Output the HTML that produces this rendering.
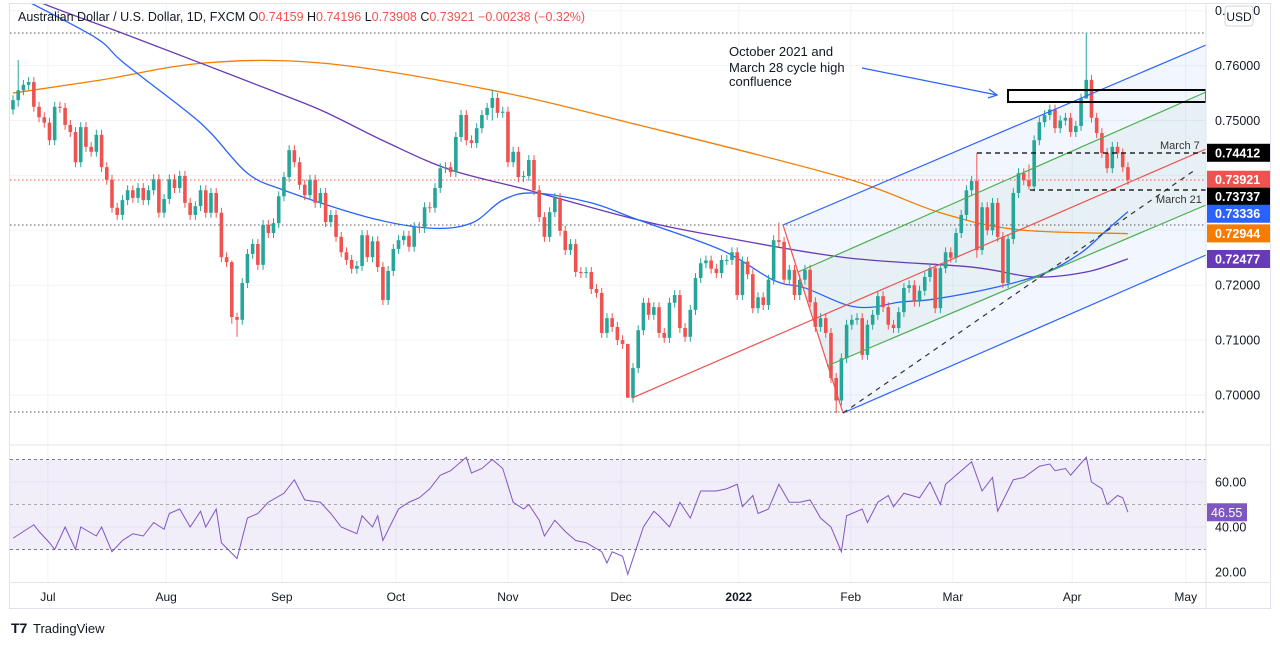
<!DOCTYPE html>
<html><head><meta charset="utf-8">
<style>
html,body{margin:0;padding:0;background:#fff;}
svg{display:block;font-family:"Liberation Sans",sans-serif;}
</style></head>
<body>
<svg id="chart" width="1280" height="645" viewBox="0 0 1280 645" xmlns="http://www.w3.org/2000/svg">
  <rect x="0" y="0" width="1280" height="645" fill="#fff"/>
  <rect x="9.5" y="3.5" width="1261" height="605" fill="none" stroke="#e0e3eb"/>
  <defs>
    <clipPath id="mainClip"><rect x="10" y="4" width="1196" height="440"/></clipPath>
    <clipPath id="rsiClip"><rect x="10" y="446" width="1196" height="136"/></clipPath>
  </defs>
  <g id="grid"></g>
  <g id="drawBack" clip-path="url(#mainClip)">
    <polygon points="783,225 1206,45 1206,255 843,413" fill="#2962ff" fill-opacity="0.06"/>
    <polygon points="798,272 1206,92 1206,205 827,366" fill="#4caf50" fill-opacity="0.06"/>
  </g>
  <g id="refLines">
    <line x1="10" y1="33" x2="1206" y2="33" stroke="#555" stroke-dasharray="1.5,2.5"/>
    <line x1="10" y1="180" x2="1206" y2="180" stroke="#ef5350" stroke-dasharray="1.5,2.5"/>
    <line x1="10" y1="225" x2="1206" y2="225" stroke="#555" stroke-dasharray="1.5,2.5"/>
    <line x1="10" y1="412" x2="1206" y2="412" stroke="#555" stroke-dasharray="1.5,2.5"/>
  </g>
  <g id="mas" clip-path="url(#mainClip)"></g>
  <g id="candles" clip-path="url(#mainClip)"></g>
  <g id="drawFront" clip-path="url(#mainClip)">
    <line x1="783" y1="225" x2="1206" y2="45" stroke="#2962ff" stroke-width="1.2"/>
    <line x1="843" y1="413" x2="1206" y2="255" stroke="#2962ff" stroke-width="1.2"/>
    <line x1="798" y1="272" x2="1206" y2="92" stroke="#4caf50" stroke-width="1.2"/>
    <line x1="827" y1="366" x2="1206" y2="205" stroke="#4caf50" stroke-width="1.2"/>
    <line x1="632" y1="398" x2="1206" y2="149" stroke="#ef5350" stroke-width="1.2"/>
    <line x1="783" y1="225" x2="843" y2="413" stroke="#ef5350" stroke-width="1.2"/>
    <line x1="843" y1="413" x2="1195" y2="170" stroke="#333" stroke-width="1.2" stroke-dasharray="5,5"/>
    <rect x="1008" y="90" width="198" height="12" fill="none" stroke="#000" stroke-width="2"/>
    <line x1="977" y1="153" x2="1206" y2="153" stroke="#000" stroke-width="1.2" stroke-dasharray="5,4"/>
    <line x1="1030" y1="190" x2="1206" y2="190" stroke="#000" stroke-width="1.2" stroke-dasharray="5,4"/>
    <line x1="862" y1="68" x2="997" y2="95" stroke="#2962ff" stroke-width="1.2"/>
    <polyline points="989,89 997,95 988,98" fill="none" stroke="#2962ff" stroke-width="1.2"/>
  </g>
  <g font-size="13" fill="#131722">
    <text x="729" y="56">October 2021 and</text>
    <text x="729" y="72">March 28 cycle high</text>
    <text x="729" y="86">confluence</text>
  </g>
  <text x="1160" y="149" font-size="11" fill="#333">March 7</text>
  <text x="1156" y="203" font-size="11" fill="#333">March 21</text>

  <g id="rsiPane">
    <line x1="10" y1="445" x2="1270" y2="445" stroke="#e0e3eb"/>
    <rect x="10" y="459.5" width="1196" height="90" fill="#7e57c2" fill-opacity="0.1"/>
    <line x1="10" y1="459.5" x2="1206" y2="459.5" stroke="#787b86" stroke-dasharray="3,3"/>
    <line x1="10" y1="504.5" x2="1206" y2="504.5" stroke="#aaa" stroke-dasharray="3,3"/>
    <line x1="10" y1="549.5" x2="1206" y2="549.5" stroke="#787b86" stroke-dasharray="3,3"/>
  </g>
  <g id="rsi" clip-path="url(#rsiClip)"></g>

  <line x1="1206" y1="4" x2="1206" y2="608" stroke="#e0e3eb"/>
  <line x1="10" y1="582.5" x2="1270" y2="582.5" stroke="#e0e3eb"/>
  <g id="axes"></g>

  <text x="18" y="21" font-size="12.5" fill="#131722">Australian Dollar / U.S. Dollar, 1D, FXCM  O<tspan fill="#ef5350">0.74159</tspan>  H<tspan fill="#ef5350">0.74196</tspan>  L<tspan fill="#ef5350">0.73908</tspan>  C<tspan fill="#ef5350">0.73921</tspan>  <tspan fill="#ef5350">−0.00238 (−0.32%)</tspan></text>

  <g>
    <rect x="1225" y="6" width="28" height="20" rx="3" fill="#fff" stroke="#d1d4dc"/>
    <text x="1239" y="21" font-size="12" fill="#131722" text-anchor="middle">USD</text>
  </g>
  <g>
    <text x="11" y="633" font-size="14" font-weight="bold" fill="#131722">T7</text>
    <text x="33" y="633" font-size="13" fill="#131722">TradingView</text>
  </g>
</svg>
<script>
// ---- data (prices in 0.0001 units above 0.70000) ----
const closes=[537,555,565,570,525,506,496,464,525,523,492,479,424,488,452,443,474,415,392,341,328,355,373,359,377,355,373,393,332,357,393,377,399,350,328,344,373,332,368,332,251,242,142,137,204,257,275,237,310,295,313,362,397,446,424,383,364,392,350,368,315,328,288,260,246,230,235,291,251,280,233,173,226,266,282,290,270,306,304,342,341,377,413,415,406,470,510,464,459,486,510,523,541,514,516,424,443,397,399,428,373,324,288,333,359,299,264,275,224,222,224,193,186,113,140,124,100,93,-5,49,118,168,146,160,113,104,168,182,122,106,155,213,240,245,230,222,246,246,260,182,243,220,158,178,164,210,282,279,210,228,182,210,228,169,124,140,113,31,-10,67,128,137,140,73,128,146,180,160,128,122,151,195,200,170,190,215,231,158,231,260,250,295,328,373,390,264,342,300,350,288,204,284,368,404,391,380,464,497,510,520,486,500,505,479,490,540,574,505,477,441,413,452,440,415,392];
const firstOpen=520;
const extremeDays=[1,42,43,92,118,147,158,185,195,206];
const extremeHighs=[610,245,150,556,40,314,40,441,420,660];
const extremeLows=[525,130,106,500,-5,270,-33,250,374,540];
const sma50Days=[3,16,21,33,38,45,52,68,80,88,94,100,111,120,136,146,152,160,165,170,177,189,198,205,210,214];
const sma50Vals=[716,650,607,519,477,404,373,324,304,313,355,368,350,319,264,209,195,164,160,169,175,197,222,259,301,334];
const sma100Days=[0,5,21,37,52,60,72,84,99,120,136,160,184,196,206,214];
const sma100Vals=[745,716,659,601,546,515,459,410,373,319,288,250,233,215,224,248];
const sma200Days=[0,17,37,60,92,120,159,178,193,214];
const sma200Vals=[550,574,605,604,555,492,397,332,301,294];
const rsiDays=[0,4,5,7,8,10,12,13,16,17,19,21,23,25,27,29,30,32,34,36,37,39,40,43,45,47,49,52,54,56,59,61,63,66,67,69,70,71,74,76,78,80,82,84,87,88,90,92,94,96,98,99,101,102,104,106,108,110,113,114,115,117,118,121,123,124,126,128,130,132,135,137,139,140,142,143,145,147,149,151,153,155,157,159,160,163,164,166,168,169,171,174,176,178,179,182,184,186,188,189,192,194,197,199,200,202,203,206,207,209,210,212,213,214];
const rsiVals=[35,41,38,33,30,40,30,40,36,40,29,34,37,36,42,39,46,48,40,47,40,48,33,26,44,46,51,55,61,52,51,46,40,37,45,40,45,34,48,51,53,57,63,65,71,64,66,70,66,51,48,50,43,36,43,38,34,33,29,24,29,27,19,40,47,45,40,51,44,56,56,57,59,49,54,46,48,59,51,51,52,44,40,29,45,48,42,51,54,49,55,53,60,50,59,65,69,56,62,47,61,62,67,68,65,66,63,71,60,57,50,54,53,46.55];
const monthLabels=["Jul","Aug","Sep","Oct","Nov","Dec","2022","Feb","Mar","Apr","May"];
const monthDays=[6.7,29.4,51.6,73.5,95,116.7,139.3,160.8,180.4,203.3,225.1];
const priceTicks=[0,100,200,500,600,700];
const gridPrices=[0,100,200,300,400,500,600,700];
const rsiTicks=[60,40,20];
const tagVals=[441.2,392.1,373.7,333.4,294.4,247.7];
const tagText=["0.74412","0.73921","0.73737","0.73336","0.72944","0.72477"];
const tagColors=["#000","#ef5350","#000","#2962ff","#f57c00","#673ab7"];

const X0=13, STEP=5.21;
const xS=d=>X0+d*STEP;
const yP=p=>395-p*0.549;
const yR=v=>617-2.25*v;
const NS="http://www.w3.org/2000/svg";
function mk(tag,attrs,parent){const e=document.createElementNS(NS,tag);for(const k in attrs)e.setAttribute(k,attrs[k]);parent.appendChild(e);return e;}

const grid=document.getElementById('grid');
gridPrices.forEach(p=>{const l=mk('line',{x1:10,x2:1206,y1:yP(p),y2:yP(p),stroke:'#f0f3fa'},grid);

});
[40,60].forEach(v=>{const l=mk('line',{x1:10,x2:1206,y1:yR(v),y2:yR(v),stroke:'#f0f3fa'},grid);

});
monthDays.forEach(d=>{const l=mk('line',{x1:xS(d),x2:xS(d),y1:4,y2:582,stroke:'#f0f3fa'},grid);

});

const cg=document.getElementById('candles');
closes.forEach((c,i)=>{
  const o=i===0?firstOpen:closes[i-1];
  const k=extremeDays.indexOf(i);
  let h=Math.max(o,c)+9, lo=Math.min(o,c)-9;
  if(k>=0){h=Math.max(extremeHighs[k],Math.max(o,c));lo=Math.min(extremeLows[k],Math.min(o,c));}
  const col=c>=o?'#26a69a':'#ef5350';
  const x=xS(i);
  const g=mk('g',{},cg);
  
  
  mk('line',{x1:x,x2:x,y1:yP(h),y2:yP(lo),stroke:col,'stroke-width':1},g);
  const yt=yP(Math.max(o,c)), yb=yP(Math.min(o,c));
  mk('rect',{x:x-1.8,y:yt,width:3.6,height:Math.max(1,yb-yt),fill:col},g);
});

function smoothPath(days,vals,ys){
  const pts=days.map((d,i)=>[xS(d),ys(vals[i])]);
  let s='M'+pts[0][0]+','+pts[0][1];
  for(let i=0;i<pts.length-1;i++){
    const p0=pts[i-1]||pts[i],p1=pts[i],p2=pts[i+1],p3=pts[i+2]||p2;
    const c1=[p1[0]+(p2[0]-p0[0])/6,p1[1]+(p2[1]-p0[1])/6];
    const c2=[p2[0]-(p3[0]-p1[0])/6,p2[1]-(p3[1]-p1[1])/6];
    s+=' C'+c1[0]+','+c1[1]+' '+c2[0]+','+c2[1]+' '+p2[0]+','+p2[1];
  }
  return s;
}
const mg=document.getElementById('mas');
const m200=mk('path',{d:smoothPath(sma200Days,sma200Vals,yP),fill:'none',stroke:'#f57c00','stroke-width':1.3},mg);


const m100=mk('path',{d:smoothPath(sma100Days,sma100Vals,yP),fill:'none',stroke:'#673ab7','stroke-width':1.3},mg);


const m50=mk('path',{d:smoothPath(sma50Days,sma50Vals,yP),fill:'none',stroke:'#2962ff','stroke-width':1.3},mg);



const rg=document.getElementById('rsi');
const rl=mk('polyline',{points:rsiDays.map((d,i)=>xS(d)+','+yR(rsiVals[i])).join(' '),fill:'none',stroke:'#7e57c2','stroke-width':1},rg);



const ax=document.getElementById('axes');
priceTicks.forEach(p=>{const t=mk('text',{x:1215,y:yP(p)+4.5,'font-size':12.5,fill:'#131722'},ax);t.textContent=(0.7+p/10000).toFixed(5);

});
rsiTicks.forEach(v=>{const t=mk('text',{x:1215,y:yR(v)+4.5,'font-size':12.5,fill:'#131722'},ax);t.textContent=v.toFixed(2);

});
monthLabels.forEach((m,i)=>{const t=mk('text',{x:xS(monthDays[i]),y:601,'font-size':12,fill:'#131722','text-anchor':'middle','font-weight':m==='2022'?'bold':'normal'},ax);t.textContent=m;

});
let prevY=-100;
tagVals.forEach((p,i)=>{const g=mk('g',{},ax);


let yc=yP(p); if(yc<prevY+17) yc=prevY+17; prevY=yc;
mk('rect',{x:1207,y:yc-9,width:63,height:18,fill:tagColors[i]},g);
const t=mk('text',{x:1215,y:yc+4.5,'font-size':12.5,'font-weight':'bold',fill:'#fff'},g);t.textContent=tagText[i];});
const rt=mk('g',{},ax);


mk('rect',{x:1207,y:yR(46.55)-9,width:40,height:18,fill:'#7e57c2'},rt);
const rtt=mk('text',{x:1211,y:yR(46.55)+4.5,'font-size':12.5,fill:'#fff'},rt);rtt.textContent='46.55';
</script>
</body></html>
